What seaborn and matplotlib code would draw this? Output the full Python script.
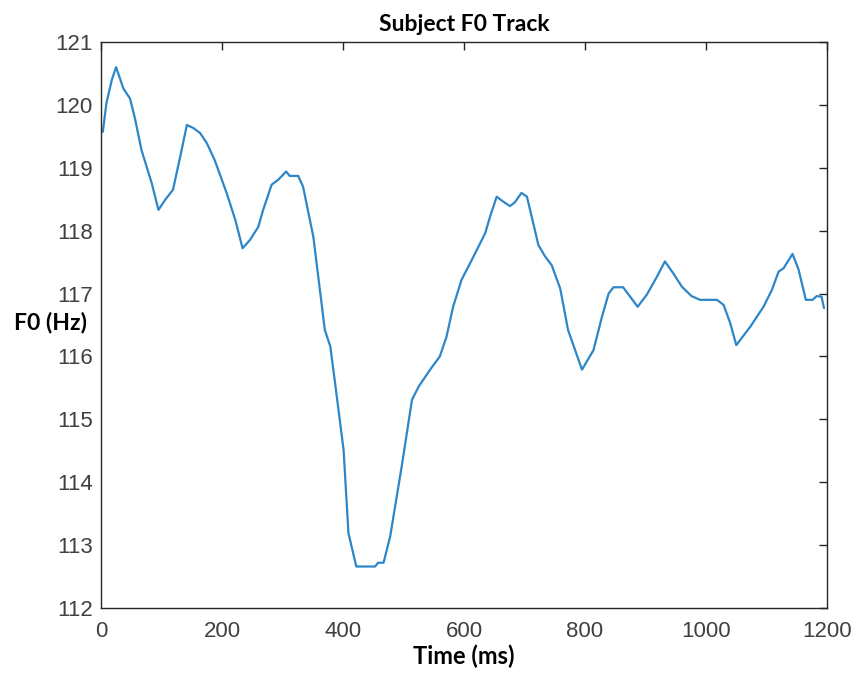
import matplotlib

matplotlib.use("Agg")
import matplotlib.pyplot as plt
import pandas as pd
import seaborn as sns

# F0 track (time in ms, F0 in Hz)
time_ms = [
    3, 9, 18, 25, 37, 48, 56, 67, 84, 95, 106, 119, 131, 142, 153, 164, 175, 188,
    208, 222, 234, 246, 260, 268, 282, 293, 306, 312, 326, 334, 351, 370, 379, 387,
    401, 409, 422, 453, 458, 467, 478, 497, 514, 525, 544, 560, 571, 582, 596, 610,
    621, 635, 643, 654, 665, 676, 684, 695, 704, 723, 734, 745, 759, 772, 795, 814,
    828, 839, 847, 863, 887, 902, 919, 932, 946, 960, 976, 990, 1018, 1029, 1040,
    1050, 1073, 1095, 1109, 1120, 1128, 1143, 1153, 1165, 1176, 1183, 1191, 1195,
]
f0_hz = [
    119.57, 120.03, 120.40, 120.60, 120.26, 120.10, 119.79, 119.28, 118.75, 118.33,
    118.49, 118.65, 119.18, 119.68, 119.63, 119.55, 119.39, 119.12, 118.59, 118.17,
    117.72, 117.85, 118.06, 118.33, 118.73, 118.81, 118.94, 118.87, 118.87, 118.70,
    117.90, 116.42, 116.16, 115.57, 114.51, 113.19, 112.66, 112.66, 112.72, 112.72,
    113.14, 114.25, 115.31, 115.52, 115.79, 116.00, 116.31, 116.79, 117.22, 117.48,
    117.69, 117.96, 118.22, 118.54, 118.46, 118.39, 118.45, 118.60, 118.54, 117.77,
    117.59, 117.45, 117.08, 116.42, 115.79, 116.10, 116.63, 117.00, 117.10, 117.10,
    116.79, 116.98, 117.27, 117.51, 117.32, 117.11, 116.96, 116.90, 116.90, 116.82,
    116.53, 116.18, 116.47, 116.79, 117.06, 117.35, 117.40, 117.63, 117.38, 116.90,
    116.90, 116.96, 116.95, 116.77,
]
x_ticks = [0, 200, 400, 600, 800, 1000, 1200]
y_ticks = [112, 113, 114, 115, 116, 117, 118, 119, 120, 121]

df = pd.DataFrame({"Time (ms)": time_ms, "F0 (Hz)": f0_hz})

sns.set_style("white")
plt.rcParams["font.family"] = ["Liberation Sans", "DejaVu Sans"]

fig = plt.figure(figsize=(8.58, 6.77), dpi=100)
ax = fig.add_axes([0.1177, 0.1019, 0.8462, 0.8361])

sns.lineplot(data=df, x="Time (ms)", y="F0 (Hz)", ax=ax, color="#2d86c8", linewidth=1.6)

ax.set_xlim(0, 1200)
ax.set_ylim(112, 121)
ax.set_xticks(x_ticks)
ax.set_yticks(y_ticks)

# MATLAB-like box with inward ticks on all sides
for side in ["left", "right", "top", "bottom"]:
    ax.spines[side].set_visible(True)
    ax.spines[side].set_color("#262626")
    ax.spines[side].set_linewidth(1.0)
ax.tick_params(direction="in", length=6, width=1, colors="#262626",
               top=True, right=True, labelsize=16, labelcolor="#404040")
ax.tick_params(axis="x", pad=9)
ax.tick_params(axis="y", pad=6)

label_font = dict(family=["Lato", "DejaVu Sans"], weight="bold", color="black")
ax.set_title("Subject F0 Track", fontsize=16.5, pad=8, **label_font)
ax.set_xlabel("Time (ms)", fontsize=17, labelpad=2, **label_font)
ax.set_ylabel("F0 (Hz)", fontsize=16.5, rotation=0, ha="left", va="center", **label_font)
ax.yaxis.set_label_coords(-0.12, 0.505)

fig.savefig("out.png", dpi=100)
